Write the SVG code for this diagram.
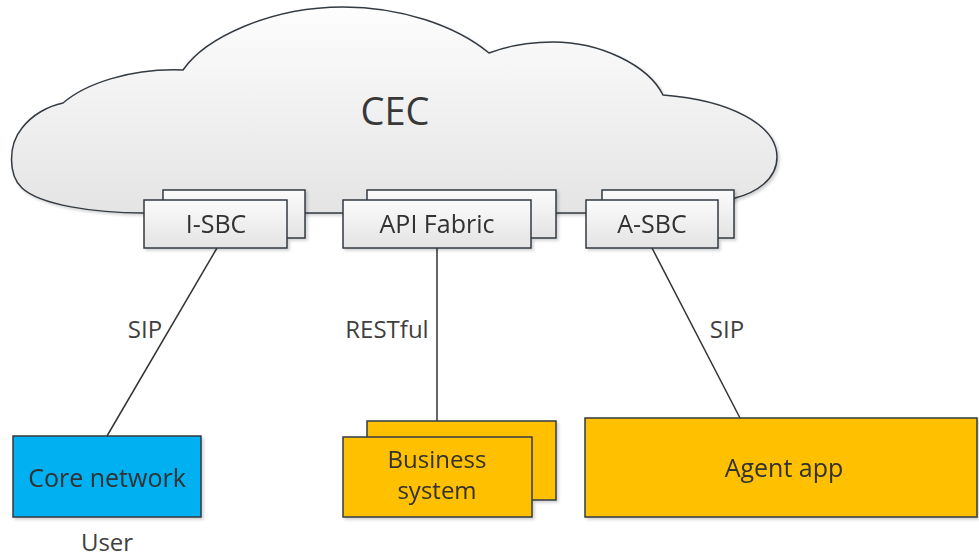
<svg xmlns="http://www.w3.org/2000/svg" width="979" height="560" viewBox="0 0 979 560">
  <defs>
    <linearGradient id="cloudFill" x1="0" y1="0" x2="0" y2="1">
      <stop offset="0" stop-color="#fdfdfd"/>
      <stop offset="1" stop-color="#e4e4e4"/>
    </linearGradient>
    <linearGradient id="grayBox" x1="0" y1="0" x2="0" y2="1">
      <stop offset="0" stop-color="#fbfbfb"/>
      <stop offset="1" stop-color="#e3e3e3"/>
    </linearGradient>
    <filter id="shadow" x="-10%" y="-10%" width="130%" height="140%">
      <feGaussianBlur in="SourceAlpha" stdDeviation="1.5"/>
      <feOffset dx="2" dy="2" result="off"/>
      <feComponentTransfer><feFuncA type="linear" slope="0.18"/></feComponentTransfer>
      <feMerge><feMergeNode/><feMergeNode in="SourceGraphic"/></feMerge>
    </filter>
  </defs>
  <style>
    .outline { stroke: #333a42; stroke-width: 1.5; }
    .gray { fill: url(#grayBox); }
    .blue { fill: #00b0f0; }
    .gold { fill: #ffc000; }
    .conn { stroke: #333; stroke-width: 1.5; fill: none; }
    text { font-family: "Open Sans", "Noto Sans", "Liberation Sans", sans-serif; fill: #3f3f3f; font-size: 24px; text-anchor: middle; }
    .inbox { fill: #303030; font-size: 25px; }
    .title { font-size: 38px; fill: #383838; }
  </style>

  <!-- CEC cloud -->
  <g id="cec">
    <path class="outline" fill="url(#cloudFill)" filter="url(#shadow)"
          d="M 143,213 C 95,213 40,205 22,188 C 8,175 8,145 22,128 C 32,115 48,106 63,103
             C 85,84 130,68 183,70 C 205,38 270,7 343,7 C 400,7 455,25 489,53
             C 510,45 530,42 553,42 C 600,42 648,65 663,95
             C 730,100 777,125 777,157 C 777,180 755,193 735,198 L 720,213 Z"/>
    <text class="title" x="395" y="125">CEC</text>
  </g>

  <!-- Connectors -->
  <g id="connectors">
    <line class="conn" x1="217" y1="248" x2="107" y2="436"/>
    <line class="conn" x1="437" y1="248" x2="437" y2="437"/>
    <line class="conn" x1="652" y1="248" x2="740" y2="418"/>
  </g>

  <!-- Connector labels -->
  <g id="labels">
    <text x="145" y="338">SIP</text>
    <text x="387" y="338">RESTful</text>
    <text x="727" y="338">SIP</text>
  </g>

  <!-- Gateway nodes on the cloud edge -->
  <g id="i-sbc" filter="url(#shadow)">
    <rect class="outline gray" x="163" y="190" width="142" height="48"/>
    <rect class="outline gray" x="144" y="200" width="143" height="48"/>
    <text class="inbox" x="216" y="233">I-SBC</text>
  </g>
  <g id="api-fabric" filter="url(#shadow)">
    <rect class="outline gray" x="367" y="190" width="189" height="48"/>
    <rect class="outline gray" x="343" y="200" width="188" height="48"/>
    <text class="inbox" x="437" y="233">API Fabric</text>
  </g>
  <g id="a-sbc" filter="url(#shadow)">
    <rect class="outline gray" x="602" y="190" width="132" height="48"/>
    <rect class="outline gray" x="586" y="200" width="132" height="48"/>
    <text class="inbox" x="652" y="233">A-SBC</text>
  </g>

  <!-- Endpoint nodes -->
  <g id="core-network" filter="url(#shadow)">
    <rect class="outline blue" x="13" y="436" width="188" height="81"/>
    <text class="inbox" x="107" y="487">Core network</text>
  </g>
  <g id="user">
    <text x="107" y="551">User</text>
  </g>
  <g id="business-system" filter="url(#shadow)">
    <rect class="outline gold" x="367" y="421" width="189" height="79"/>
    <rect class="outline gold" x="343" y="437" width="189" height="80"/>
    <text class="inbox" x="437" y="468" style="font-size:24px">Business</text>
    <text class="inbox" x="437" y="499" style="font-size:24px">system</text>
  </g>
  <g id="agent-app" filter="url(#shadow)">
    <rect class="outline gold" x="585" y="418" width="392" height="99"/>
    <text class="inbox" x="784" y="477">Agent app</text>
  </g>
</svg>
